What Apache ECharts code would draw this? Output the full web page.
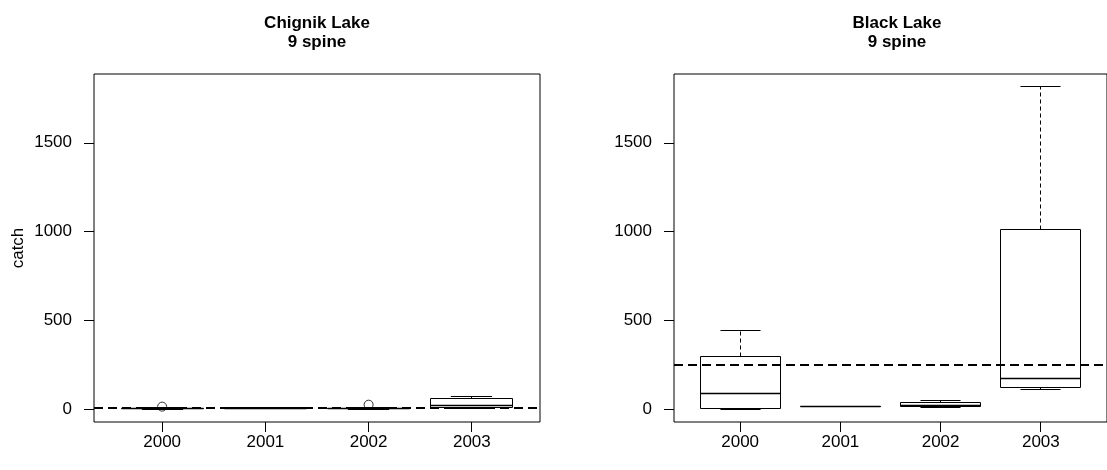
<!DOCTYPE html>
<html>
<head>
<meta charset="utf-8">
<script src="https://cdn.jsdelivr.net/npm/echarts@6/dist/echarts.min.js"></script>
<style>
html,body{margin:0;padding:0;background:#fff;}
#chart{width:1107px;height:470px;}
</style>
</head>
<body>
<div id="chart"></div>
<script>
// ---- data ----
const years = ['2000', '2001', '2002', '2003'];
// five-number summaries [min, Q1, median, Q3, max]
const chignikBox = [[0, 2, 4, 6, 8], [4, 5, 6, 7, 8], [0, 2, 4, 6, 9], [3, 8, 18, 58, 71]];
const chignikOutliers = [[0, 14], [2, 25]]; // [year index, value]
const blackBox = [[0, 4, 87, 297, 445], [13, 14, 15, 16, 17], [10, 12, 22, 35, 48], [108, 122, 170, 1014, 1815]];
const blackOutliers = [];
const chignikRef = 10;
const blackRef = 250;
const yTicks = [0, 500, 1000, 1500];
const titles = ['Chignik Lake\n9 spine', 'Black Lake\n9 spine'];

// ---- chart ----
const FONT = 'Liberation Sans, Arial, sans-serif';
const yMin = -72.6, yMax = 1887.6;
const xTicks = years.map((_, i) => i + 1);

function crisp(v) { return Math.round(v - 0.5) + 0.5; }

function renderBox(params, api) {
  const x = api.value(0);
  const v = [1, 2, 3, 4, 5].map(i => api.value(i));
  const half = api.size([0.8, 0])[0] / 2;
  const capHalf = api.size([0.4, 0])[0] / 2;
  const cx = crisp(api.coord([x, v[2]])[0]);
  const y = v.map(val => crisp(api.coord([x, val])[1]));
  const L = crisp(cx - half), R = crisp(cx + half);
  const solid = { stroke: '#000', lineWidth: 1 };
  const dashed = { stroke: '#000', lineWidth: 1, lineDash: [4, 3] };
  return {
    type: 'group',
    children: [
      { type: 'line', shape: { x1: cx, y1: y[3], x2: cx, y2: y[4] }, style: dashed },
      { type: 'line', shape: { x1: cx, y1: y[1], x2: cx, y2: y[0] }, style: dashed },
      { type: 'line', shape: { x1: cx - capHalf, y1: y[4], x2: cx + capHalf, y2: y[4] }, style: solid },
      { type: 'line', shape: { x1: cx - capHalf, y1: y[0], x2: cx + capHalf, y2: y[0] }, style: solid },
      { type: 'rect', shape: { x: L, y: y[3], width: R - L, height: y[1] - y[3] }, style: { fill: 'none', stroke: '#000', lineWidth: 1 } },
      { type: 'line', shape: { x1: L, y1: y[2], x2: R, y2: y[2] }, style: { stroke: '#000', lineWidth: 1.6 } }
    ]
  };
}

// x-axis tick marks, positioned through the axis scale at the bottom of the plot
function renderTick(params, api) {
  const p = api.coord([api.value(0), yMin]);
  const x = crisp(p[0]);
  const y0 = Math.round(p[1]);
  return {
    type: 'line', silent: true,
    shape: { x1: x, y1: y0, x2: x, y2: y0 + 10 },
    style: { stroke: '#000', lineWidth: 1 }
  };
}

const panels = [
  { box: chignikBox, out: chignikOutliers, ref: chignikRef, left: 94, yName: 'catch' },
  { box: blackBox, out: blackOutliers, ref: blackRef, left: 674, yName: '' }
];

const grid = panels.map(p => ({
  left: p.left, top: 74, width: 446, height: 348,
  show: true, borderColor: '#000', borderWidth: 1, backgroundColor: 'transparent'
}));

const xAxis = panels.map((p, i) => ({
  type: 'value', gridIndex: i, min: 0.34, max: 4.66,
  axisLine: { show: false, onZero: false },
  splitLine: { show: false },
  axisTick: { show: false },
  axisLabel: {
    customValues: xTicks, margin: 12, color: '#000', fontSize: 17, fontFamily: FONT,
    formatter: val => years[Math.round(val) - 1] || ''
  }
}));

const yAxis = panels.map((p, i) => ({
  type: 'value', gridIndex: i, min: yMin, max: yMax,
  name: p.yName, nameLocation: 'middle', nameRotate: 90, nameGap: 67,
  nameTextStyle: { color: '#000', fontSize: 17, fontFamily: FONT },
  axisLine: { show: false, onZero: false },
  splitLine: { show: false },
  axisTick: { show: true, customValues: yTicks, length: 10, lineStyle: { color: '#000', width: 1 } },
  axisLabel: { customValues: yTicks, margin: 22, color: '#000', fontSize: 17, fontFamily: FONT,
    formatter: val => String(Math.round(val)) }
}));

const series = [];
panels.forEach((p, i) => {
  series.push({
    type: 'custom', xAxisIndex: i, yAxisIndex: i,
    renderItem: renderBox,
    encode: { x: 0, y: [1, 2, 3, 4, 5] },
    data: p.box.map((b, k) => [k + 1].concat(b)),
    z: 3,
    markLine: {
      silent: true, symbol: 'none', animation: false,
      label: { show: false },
      lineStyle: { color: '#000', width: 2, type: [9, 5] },
      data: [{ yAxis: p.ref }]
    }
  });
  series.push({
    type: 'scatter', xAxisIndex: i, yAxisIndex: i,
    symbol: 'circle', symbolSize: 9,
    itemStyle: { color: 'transparent', borderColor: '#000', borderWidth: 1 },
    data: p.out.map(o => [o[0] + 1, o[1]]),
    z: 4
  });
  series.push({
    type: 'custom', xAxisIndex: i, yAxisIndex: i,
    renderItem: renderTick, clip: false, silent: true,
    encode: { x: 0 },
    data: xTicks.map(t => [t]),
    z: 5
  });
});

const graphic = panels.map((p, i) => ({
  type: 'text',
  x: p.left + 223, y: 14,
  style: {
    text: titles[i], fill: '#000', font: 'bold 17px ' + FONT,
    textAlign: 'center', textVerticalAlign: 'top', lineHeight: 19
  }
}));

const chart = echarts.init(document.getElementById('chart'), null, { renderer: 'canvas' });
chart.setOption({
  animation: false,
  backgroundColor: '#fff',
  grid, xAxis, yAxis, series, graphic
});
</script>
</body>
</html>
